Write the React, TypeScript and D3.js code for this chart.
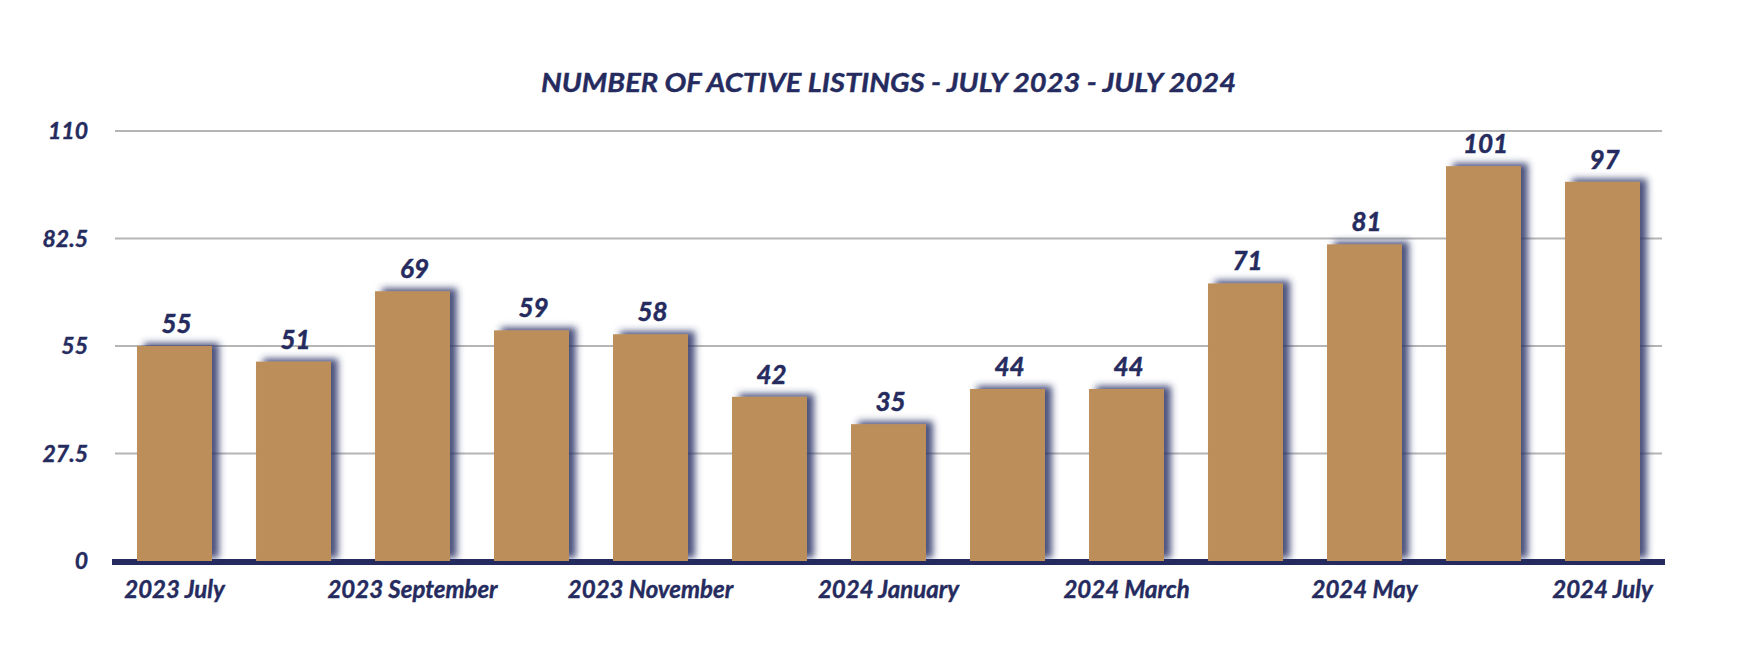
import React from 'react';
import * as d3 from 'd3';

const months = [
  '2023 July', '2023 August', '2023 September', '2023 October', '2023 November', '2023 December',
  '2024 January', '2024 February', '2024 March', '2024 April', '2024 May', '2024 June', '2024 July',
];
const listings = [55, 51, 69, 59, 58, 42, 35, 44, 44, 71, 81, 101, 97];
const yTicks = [0, 27.5, 55, 82.5, 110];
const title = 'NUMBER OF ACTIVE LISTINGS - JULY 2023 - JULY 2024';

const NAVY = '#252b5e';
const BAR = '#bc8e5a';
const FONT = 'Lato, "Open Sans", sans-serif';

const W = 1760;
const H = 660;

const App: React.FC = () => {
  const x = d3.scaleBand<string>()
    .domain(months)
    .range([115, 1662])
    .paddingInner(0.37)
    .paddingOuter(0.185);

  const y = d3.scaleLinear()
    .domain([0, 110])
    .range([561, 131]);

  const [x0, x1] = x.range();

  return (
    <div style={{ position: 'absolute', left: 0, top: 0 }}>
      <svg width={W} height={H} style={{ display: 'block', background: '#fff' }}>
        <defs>
          <filter id="barShadow" x="-30%" y="-10%" width="160%" height="120%">
            <feDropShadow dx={7} dy={-3} stdDeviation={3.5} floodColor="#2b3166" floodOpacity={0.85} />
          </filter>
        </defs>

        {/* title */}
        <text
          x={(x0 + x1) / 2}
          y={92}
          textAnchor="middle"
          fontFamily={FONT}
          fontWeight={700}
          fontStyle="italic"
          fontSize={27}
          fill={NAVY}
          stroke={NAVY}
          strokeWidth={0.4}
          textLength={695}
          lengthAdjust="spacingAndGlyphs"
        >
          {title}
        </text>

        {/* grid */}
        {yTicks.filter(t => t > 0).map(t => (
          <line key={t} x1={x0} x2={x1} y1={y(t)} y2={y(t)} stroke="#b5b5b5" strokeWidth={2} />
        ))}

        {/* y labels */}
        {yTicks.map(t => (
          <text
            key={t}
            x={88}
            y={y(t)}
            dy="0.36em"
            textAnchor="end"
            fontFamily={FONT}
            fontWeight={700}
            fontStyle="italic"
            fontSize={23}
            fill={NAVY}
            stroke={NAVY}
            strokeWidth={0.4}
          >
            {t}
          </text>
        ))}

        {/* baseline */}
        <line x1={112} x2={1665} y1={562} y2={562} stroke={NAVY} strokeWidth={6} />

        {/* bars */}
        {months.map((m, i) => (
          <rect
            key={m}
            x={x(m)}
            y={y(listings[i])}
            width={x.bandwidth()}
            height={y(0) - y(listings[i])}
            fill={BAR}
            filter="url(#barShadow)"
          />
        ))}

        {/* value labels */}
        {months.map((m, i) => (
          <text
            key={m}
            x={(x(m) as number) + x.bandwidth() / 2 + 2}
            y={y(listings[i]) - 13}
            textAnchor="middle"
            fontFamily={FONT}
            fontWeight={700}
            fontStyle="italic"
            fontSize={26}
            fill={NAVY}
            stroke={NAVY}
            strokeWidth={0.5}
          >
            {listings[i]}
          </text>
        ))}

        {/* x labels, every other month */}
        {months.filter((_, i) => i % 2 === 0).map(m => (
          <text
            key={m}
            x={(x(m) as number) + x.bandwidth() / 2}
            y={598}
            textAnchor="middle"
            fontFamily={FONT}
            fontWeight={700}
            fontStyle="italic"
            fontSize={24}
            fill={NAVY}
            stroke={NAVY}
            strokeWidth={0.4}
          >
            {m}
          </text>
        ))}
      </svg>
    </div>
  );
};

export default App;
